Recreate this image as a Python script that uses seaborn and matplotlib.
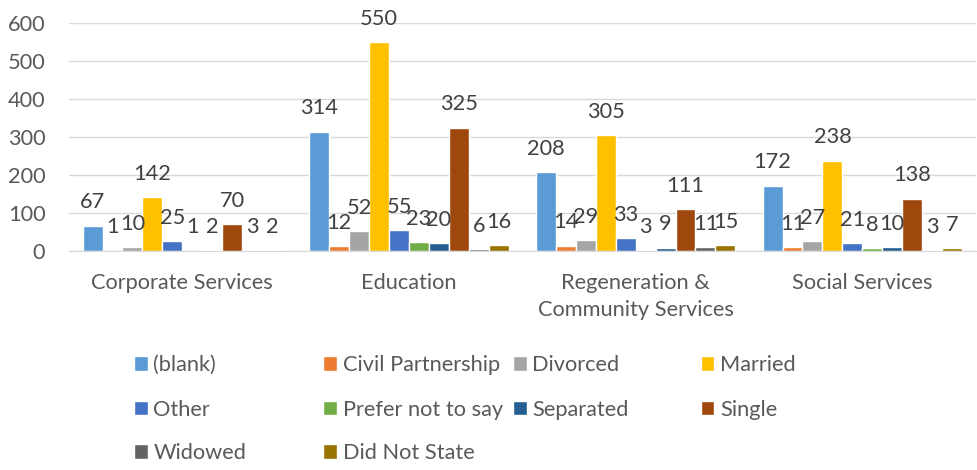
import pandas as pd
import seaborn as sns
import matplotlib.pyplot as plt
from matplotlib.patches import Patch

# ------------------------------------------------------------
# Data
# ------------------------------------------------------------
departments = ["Corporate Services", "Education",
               "Regeneration &\nCommunity Services", "Social Services"]
statuses = ["(blank)", "Civil Partnership", "Divorced", "Married", "Other",
            "Prefer not to say", "Separated", "Single", "Widowed", "Did Not State"]

blank = [67, 314, 208, 172]
civil_partnership = [1, 12, 14, 11]
divorced = [10, 52, 29, 27]
married = [142, 550, 305, 238]
other = [25, 55, 33, 21]
prefer_not = [1, 23, 3, 8]
separated = [2, 20, 9, 10]
single = [70, 325, 111, 138]
widowed = [3, 6, 11, 3]
did_not_state = [2, 16, 15, 7]

series = [blank, civil_partnership, divorced, married, other,
          prefer_not, separated, single, widowed, did_not_state]

colors = ["#5B9BD5", "#ED7D31", "#A5A5A5", "#FFC000", "#4472C4",
          "#70AD47", "#255E91", "#9E480E", "#636363", "#997300"]

rows = []
for status, vals in zip(statuses, series):
    for dept, v in zip(departments, vals):
        rows.append({"Department": dept, "Status": status, "Count": v})
df = pd.DataFrame(rows)

# ------------------------------------------------------------
# Plot
# ------------------------------------------------------------
sns.set_style("white")
plt.rcParams["font.family"] = ["Lato", "DejaVu Sans"]
fs = 15.7

fig = plt.figure(figsize=(9.77, 4.70), dpi=100)
ax = fig.add_axes([0.0706, 0.466, 0.928, 0.485])

sns.barplot(data=df, x="Department", y="Count", hue="Status",
            order=departments, hue_order=statuses, palette=colors,
            saturation=1, width=0.88, gap=0, ax=ax, legend=False)

for cont in ax.containers:
    ax.bar_label(cont, padding=9.5, fontsize=fs, color="#404040")

ax.set_ylim(0, 600)
ax.set_yticks(range(0, 601, 100))
ax.set_xlim(-0.5, 3.5)
ax.yaxis.grid(True, color="#D9D9D9", linewidth=1)
ax.set_axisbelow(True)
for s in ["top", "right", "left"]:
    ax.spines[s].set_visible(False)
ax.spines["bottom"].set_color("#D9D9D9")
ax.set_xlabel("")
ax.set_ylabel("")
ax.tick_params(axis="both", length=0, labelsize=fs, labelcolor="#595959")
ax.tick_params(axis="x", pad=15.5)
ax.tick_params(axis="y", pad=17)
for t in ax.get_xticklabels():
    t.set_linespacing(1.45)

# Legend laid out row-wise in four columns like the original
col_x = [0.137, 0.331, 0.525, 0.717]
row_y = [0.223, 0.128, 0.036]
for i, (status, c) in enumerate(zip(statuses, colors)):
    r, k = divmod(i, 4)
    fig.legend(handles=[Patch(facecolor=c)], labels=[status],
               loc="center left", bbox_to_anchor=(col_x[k], row_y[r]),
               frameon=False, fontsize=fs, handlelength=0.64,
               handleheight=0.64, handletextpad=0.25, borderpad=0,
               borderaxespad=0, labelcolor="#595959")

fig.savefig("out.png", dpi=100)
